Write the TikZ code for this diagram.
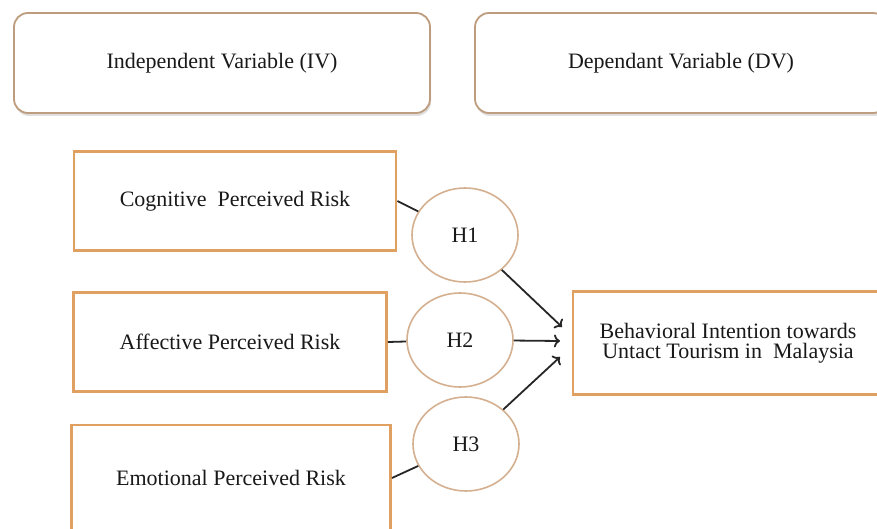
\documentclass[tikz,border=0pt]{standalone}
\usepackage{fontspec}
\setmainfont{Liberation Serif}
\usetikzlibrary{arrows, arrows.meta, positioning, shapes.geometric, shadows}

\definecolor{boxorange}{RGB}{224,160,98}
\definecolor{topline}{RGB}{190,156,126}
\definecolor{ringtan}{RGB}{212,176,144}

\begin{document}
\begin{tikzpicture}[
        x=1pt, y=1pt,
        every node/.style={font=\fontsize{22}{20.5}\selectfont, text=black!90, align=center, inner sep=0pt},
        header/.style={draw=topline, line width=1.8pt, rounded corners=14pt, fill=white, minimum height=100pt,
            drop shadow={opacity=0.25, shadow xshift=1pt, shadow yshift=-3pt}},
        riskbox/.style={draw=boxorange, line width=2.9pt, fill=white, minimum height=99pt},
        hyp/.style={ellipse, draw=ringtan, line width=1.6pt, fill=white, minimum width=106pt, minimum height=94pt},
        link/.style={black!85, line width=1.8pt},
        >={To[length=6pt, width=13pt]}
    ]
        \useasboundingbox (0,0) rectangle (877,528);
        \clip (0,0) rectangle (877,528);

        % Tiêu đề
        \node [header, minimum width=416pt] (iv) at (222,465) {Independent Variable (IV)};
        \node [header, minimum width=412pt] (dv) at (681,465) {Dependant Variable (DV)};

        % Các biến độc lập
        \node [riskbox, minimum width=322pt] (cog) at (235,327) {Cognitive\ \ Perceived Risk};
        \node [riskbox, minimum width=313pt] (aff) at (230,186) {Affective Perceived Risk};
        \node [riskbox, minimum width=319pt, minimum height=106pt] (emo) at (231,50) {Emotional Perceived Risk};

        % Biến phụ thuộc
        \node [riskbox, minimum width=310pt, minimum height=103pt] (bi) at (728,185) {Behavioral Intention towards\\Untact Tourism in\ \ Malaysia};

        % Giả thuyết
        \node [hyp] (h1) at (465,293) {H1};
        \node [hyp] (h2) at (460,188) {H2};
        \node [hyp] (h3) at (466,84) {H3};

        \coordinate (t1) at (562,201);
        \coordinate (t2) at (560,187);
        \coordinate (t3) at (560,171);

        % Các liên kết
        \draw[link] (cog.east) -- (h1);
        \draw[link] (aff.east) -- (h2);
        \draw[link] (emo.east) -- (h3);
        \draw[link, ->] (h1) -- (t1);
        \draw[link, ->] (h2) -- (t2);
        \draw[link, ->] (h3) -- (t3);
    \end{tikzpicture}
\end{document}
